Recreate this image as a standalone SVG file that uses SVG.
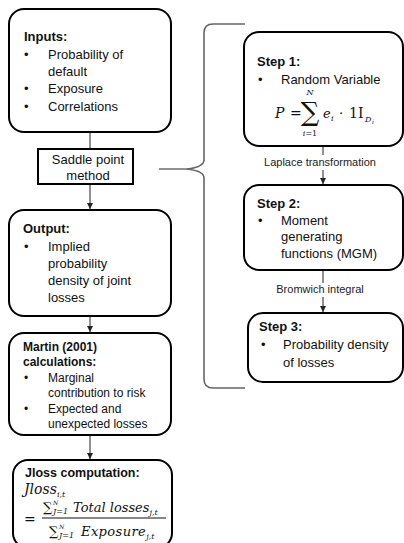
<svg xmlns="http://www.w3.org/2000/svg" width="404" height="543" viewBox="0 0 404 543">
<style>
.box{fill:#fff;stroke:#000;stroke-width:2}
.t{font-family:"Liberation Sans",Arial,sans-serif;font-size:13px;fill:#111}
.b{font-weight:bold}
.s{font-size:12px}
.lbl{font-family:"Liberation Sans",Arial,sans-serif;font-size:11px;fill:#222;text-anchor:middle}
.m{font-family:"DejaVu Serif",serif;font-style:italic;fill:#111}
.mu{font-family:"DejaVu Serif",serif;fill:#111}
.c{stroke:#222;stroke-width:1;fill:none}
.brace{stroke:#666;stroke-width:1.6;fill:none}
</style>
<defs>
<marker id="ah" markerWidth="7" markerHeight="7" refX="6" refY="3.5" orient="auto" markerUnits="userSpaceOnUse">
<path d="M0,0.5 L6,3.5 L0,6.5 Z" fill="#222"/>
</marker>
</defs>
<g id="connectors">
<line class="c" x1="90" y1="132" x2="90" y2="149"/>
<line class="c" x1="90" y1="184" x2="90" y2="209" marker-end="url(#ah)"/>
<line class="c" x1="90" y1="316" x2="90" y2="332" marker-end="url(#ah)"/>
<line class="c" x1="90" y1="435" x2="90" y2="459" marker-end="url(#ah)"/>
<line class="c" x1="159" y1="169" x2="188" y2="169"/>
<path class="brace" d="M245,24 L213,24 Q204,24 204,33 L204,160 Q204,167 187,169 Q204,171 204,178 L204,379 Q204,388 213,388 L245,388"/>
<line class="c" x1="323" y1="146" x2="323" y2="155"/>
<line class="c" x1="323" y1="170" x2="323" y2="184" marker-end="url(#ah)"/>
<text class="lbl" x="320" y="166">Laplace transformation</text>
<line class="c" x1="323" y1="270" x2="323" y2="283"/>
<line class="c" x1="323" y1="297" x2="323" y2="312" marker-end="url(#ah)"/>
<text class="lbl" x="320" y="293">Bromwich integral</text>
</g>
<g id="inputs">
<rect class="box" x="9" y="9" width="162" height="123" rx="15"/>
<text class="t b" x="24" y="41">Inputs:</text>
<text class="t" x="24" y="59">•</text><text class="t" x="48" y="59">Probability of</text>
<text class="t" x="48" y="76">default</text>
<text class="t" x="24" y="93">•</text><text class="t" x="48" y="93">Exposure</text>
<text class="t" x="24" y="111">•</text><text class="t" x="48" y="111">Correlations</text>
</g>
<g id="saddle">
<rect class="box" x="38" y="149" width="95" height="35"/>
<text class="t" x="88" y="164" text-anchor="middle">Saddle point</text>
<text class="t" x="88" y="180" text-anchor="middle">method</text>
</g>
<g id="output">
<rect class="box" x="9" y="210" width="162" height="106" rx="15"/>
<text class="t b" x="23" y="233">Output:</text>
<text class="t" x="24" y="251">•</text><text class="t" x="48" y="251">Implied</text>
<text class="t" x="48" y="268">probability</text>
<text class="t" x="48" y="285">density of joint</text>
<text class="t" x="48" y="302">losses</text>
</g>
<g id="martin">
<rect class="box" x="9" y="333" width="162" height="102" rx="15"/>
<text class="t s b" x="23" y="351">Martin (2001)</text>
<text class="t s b" x="23" y="366">calculations:</text>
<text class="t s" x="24" y="382">•</text><text class="t s" x="48" y="382">Marginal</text>
<text class="t s" x="48" y="397">contribution to risk</text>
<text class="t s" x="24" y="413">•</text><text class="t s" x="48" y="413">Expected and</text>
<text class="t s" x="48" y="428">unexpected losses</text>
</g>
<g id="jloss">
<rect class="box" x="13" y="460" width="159" height="88" rx="15"/>
<text class="t b" x="25" y="477" style="font-size:12.5px">Jloss computation:</text>
<text class="m" x="24" y="494" style="font-size:14px">Jloss<tspan dy="3" style="font-size:8px">i,t</tspan></text>
<text class="mu" x="24" y="524" style="font-size:14px">=</text>
<text class="mu" x="43" y="512" style="font-size:13px">∑</text>
<text class="m" x="53" y="505" style="font-size:6px">N</text>
<text class="m" x="53" y="514" style="font-size:8px">J=1</text>
<text class="m" x="73" y="512" style="font-size:13px">Total losses<tspan dy="3" style="font-size:8px">j,t</tspan></text>
<line x1="42" y1="518" x2="166" y2="518" stroke="#111" stroke-width="1"/>
<text class="mu" x="49" y="536" style="font-size:13px">∑</text>
<text class="m" x="59" y="529" style="font-size:6px">N</text>
<text class="m" x="59" y="538" style="font-size:8px">J=1</text>
<text class="m" x="81" y="536" style="font-size:13px;letter-spacing:0.4px">Exposure<tspan dy="3" style="font-size:8px;letter-spacing:0">j,t</tspan></text>
</g>
<g id="step1">
<rect class="box" x="244" y="32" width="159" height="114" rx="15"/>
<text class="t b" x="257" y="66">Step 1:</text>
<text class="t" x="258" y="84">•</text><text class="t" x="281" y="84">Random Variable</text>
<text class="m" x="275" y="118" style="font-size:14px">P</text>
<text class="mu" x="290" y="118" style="font-size:14px">=</text>
<text class="mu" x="310" y="121" text-anchor="middle" style="font-size:26px">∑</text>
<text class="m" x="310" y="95" text-anchor="middle" style="font-size:8px">N</text>
<text class="mu" x="310" y="136" text-anchor="middle" style="font-size:8px"><tspan class="m">i</tspan>=1</text>
<text class="m" x="323" y="118" style="font-size:13px">e</text>
<text class="m" x="331" y="121" style="font-size:8px">i</text>
<text class="mu" x="339" y="118" style="font-size:13px">·</text>
<text class="mu" x="349" y="118" style="font-size:14px">1I</text>
<text class="m" x="365" y="122" style="font-size:8px">D</text>
<text class="m" x="372" y="124" style="font-size:6px">i</text>
</g>
<g id="step2">
<rect class="box" x="244" y="185" width="159" height="85" rx="15"/>
<text class="t b" x="257" y="208">Step 2:</text>
<text class="t" x="258" y="225">•</text><text class="t" x="281" y="225">Moment</text>
<text class="t" x="281" y="241">generating</text>
<text class="t" x="281" y="258">functions (MGM)</text>
</g>
<g id="step3">
<rect class="box" x="248" y="313" width="155" height="69" rx="15"/>
<text class="t b" x="259" y="331">Step 3:</text>
<text class="t" x="261" y="349">•</text><text class="t" x="283" y="349">Probability density</text>
<text class="t" x="283" y="367">of losses</text>
</g>
</svg>
